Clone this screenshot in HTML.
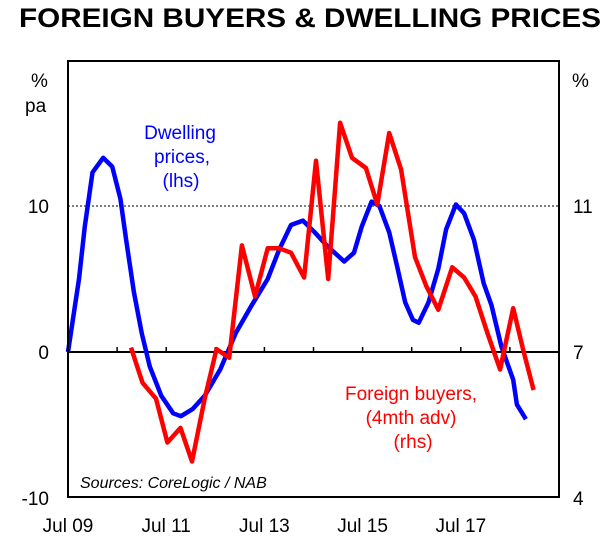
<!DOCTYPE html>
<html><head><meta charset="utf-8"><style>
body{margin:0;background:#fff;}
svg{display:block;font-family:"Liberation Sans",Arial,sans-serif;}
</style></head><body>
<svg id="chart" width="611" height="542" viewBox="0 0 611 542">
<text x="19" y="27" font-size="27" font-weight="bold" textLength="582" lengthAdjust="spacingAndGlyphs">FOREIGN BUYERS &amp; DWELLING PRICES</text>
<g id="grid"></g>
<g id="series"></g>
<rect x="68" y="61" width="491" height="436" fill="none" stroke="#000" stroke-width="2"/>
<g id="axes" font-size="19"></g>
<text x="31" y="87" font-size="19">%</text>
<text x="25" y="112" font-size="19">pa</text>
<text x="572" y="87" font-size="19">%</text>
<text fill="#0000ff" font-size="19" text-anchor="middle"><tspan x="180" y="139">Dwelling</tspan><tspan x="182" y="163">prices,</tspan><tspan x="181" y="187">(lhs)</tspan></text>
<text fill="#ff0000" font-size="19" text-anchor="middle"><tspan x="411" y="400">Foreign buyers,</tspan><tspan x="411" y="424">(4mth adv)</tspan><tspan x="413" y="448">(rhs)</tspan></text>
<text x="80" y="488" font-size="16" font-style="italic">Sources: CoreLogic / NAB</text>
</svg>
<script>
const xTickLabels=["Jul 09","Jul 11","Jul 13","Jul 15","Jul 17"];
const leftTicks=[-10,0,10];
const rightTickLabels=["4","7","11"];
const dwellT=[0,2.7,4.1,6,8.6,10.8,12.8,14.2,16.1,18,20,22.8,25.7,27.6,30.5,33.4,37.2,41,44.9,48.8,51.6,54.5,57.4,60.3,63.2,67.5,69.9,71.8,74.2,76.1,78.5,80.4,82.4,84.3,85.7,88.1,90.5,92.4,94.8,96.8,99.2,101.6,103.5,105.9,108.8,109.7,111.9];
const dwellV=[0,5,8.6,12.3,13.3,12.7,10.5,7.7,4.1,1.3,-1,-3,-4.2,-4.4,-3.9,-3,-1.2,1.3,3.2,5,7,8.7,9,8.2,7.3,6.2,6.8,8.6,10.3,10,8.2,5.9,3.4,2.2,2,3.4,5.7,8.4,10.1,9.5,7.7,4.7,3.2,0.4,-1.9,-3.6,-4.6];
const foreignT=[15.4,18.2,21.5,24.3,27.5,30.3,33.4,36.3,39.4,42.5,45.7,48.8,51.6,54.5,57.7,60.6,63.6,66.5,69.4,72.8,75.6,78.5,81.4,84.8,87.6,90.5,93.9,96.8,99.6,102.5,105.6,108.8,111.2,113.8];
const foreignV=[0.3,-2.1,-3.2,-6.2,-5.2,-7.5,-3.2,0.2,-0.4,7.3,3.8,7.1,7.1,6.8,5.1,13.1,5,15.7,13.3,12.6,10.1,15,12.5,6.5,4.5,2.9,5.8,5.1,3.8,1.3,-1.2,3,0.2,-2.6];
const NS="http://www.w3.org/2000/svg";
function xS(t){return 68+t*491/120;}
function yS(v){return 352-v*14.6;}
function mk(tag,attrs,parent){const e=document.createElementNS(NS,tag);for(const k in attrs)e.setAttribute(k,attrs[k]);parent.appendChild(e);return e;}
const grid=document.getElementById('grid'),axes=document.getElementById('axes'),ser=document.getElementById('series');
let gl=mk('line',{x1:68,x2:559,y1:yS(10),y2:yS(10),stroke:'#555','stroke-dasharray':'2,2','stroke-width':1.5},grid);


let zl=mk('line',{x1:68,x2:559,y1:yS(0),y2:yS(0),stroke:'#000','stroke-width':2},grid);


for(let i=1;i<10;i++){let tk=mk('line',{x1:xS(i*12),x2:xS(i*12),y1:yS(0),y2:yS(0)-5,stroke:'#000','stroke-width':1.5},grid);

}
xTickLabels.forEach((l,i)=>{let t=mk('text',{x:xS(i*24),y:532,'text-anchor':'middle'},axes);t.textContent=l;

});
leftTicks.forEach(v=>{let t=mk('text',{x:49,y:yS(v)+7,'text-anchor':'end'},axes);t.textContent=v;

});
const rightYs=[yS(-10),yS(0),yS(10)];
rightTickLabels.forEach((l,i)=>{let t=mk('text',{x:573,y:rightYs[i]+7},axes);t.textContent=l;

});
function line(T,V,c,name){let d=T.map((t,i)=>(i?'L':'M')+xS(t).toFixed(1)+','+yS(V[i]).toFixed(1)).join('');
let p=mk('path',{d:d,fill:'none',stroke:c,'stroke-width':4.5,'stroke-linejoin':'round'},ser);

}
line(dwellT,dwellV,'#0000ff','dwelling-prices-line');
line(foreignT,foreignV,'#ff0000','foreign-buyers-line');
</script>
</body></html>
